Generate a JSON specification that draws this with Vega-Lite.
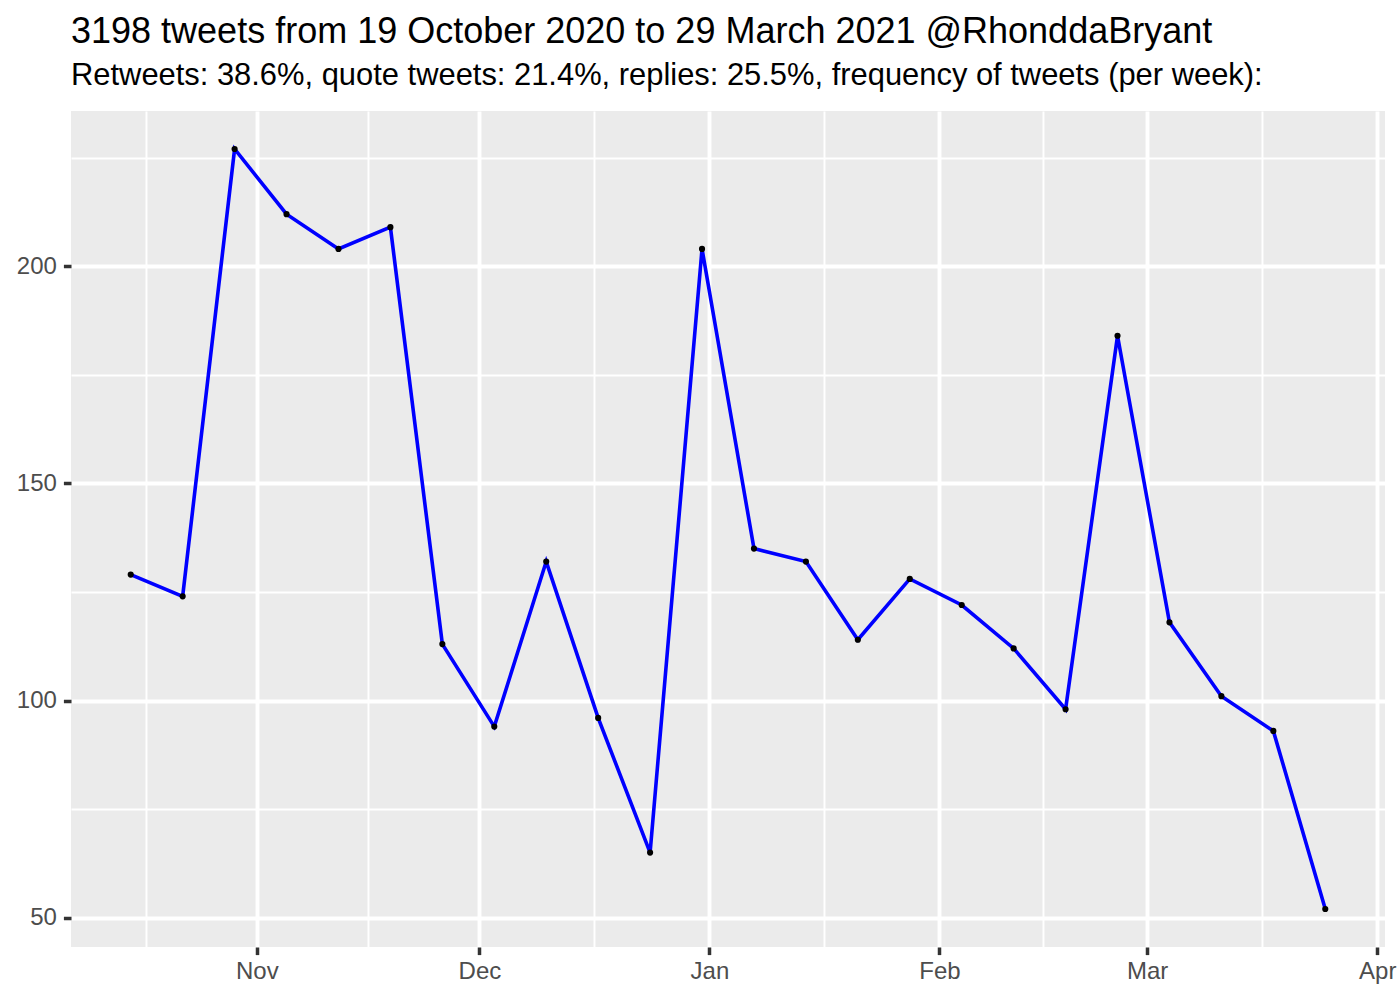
{
  "$schema": "https://vega.github.io/schema/vega-lite/v6.json",
  "width": 1314,
  "height": 836,
  "autosize": {"type": "none"},
  "padding": {"left": 71, "top": 111, "right": 15, "bottom": 53},
  "background": "white",
  "title": {
    "text": "3198 tweets from 19 October 2020 to 29 March 2021 @RhonddaBryant",
    "subtitle": "Retweets: 38.6%, quote tweets: 21.4%, replies: 25.5%, frequency of tweets (per week):",
    "anchor": "start",
    "frame": "group",
    "font": "Liberation Sans",
    "fontSize": 36,
    "fontWeight": "normal",
    "color": "#000000",
    "subtitleFont": "Liberation Sans",
    "subtitleFontSize": 30.9,
    "subtitleColor": "#000000",
    "subtitlePadding": 10,
    "offset": 19.5
  },
  "data": {
    "values": [
      {"week": "2020-10-15", "n": 129},
      {"week": "2020-10-22", "n": 124},
      {"week": "2020-10-29", "n": 227},
      {"week": "2020-11-05", "n": 212},
      {"week": "2020-11-12", "n": 204},
      {"week": "2020-11-19", "n": 209},
      {"week": "2020-11-26", "n": 113},
      {"week": "2020-12-03", "n": 94},
      {"week": "2020-12-10", "n": 132},
      {"week": "2020-12-17", "n": 96},
      {"week": "2020-12-24", "n": 65},
      {"week": "2020-12-31", "n": 204},
      {"week": "2021-01-07", "n": 135},
      {"week": "2021-01-14", "n": 132},
      {"week": "2021-01-21", "n": 114},
      {"week": "2021-01-28", "n": 128},
      {"week": "2021-02-04", "n": 122},
      {"week": "2021-02-11", "n": 112},
      {"week": "2021-02-18", "n": 98},
      {"week": "2021-02-25", "n": 184},
      {"week": "2021-03-04", "n": 118},
      {"week": "2021-03-11", "n": 101},
      {"week": "2021-03-18", "n": 93},
      {"week": "2021-03-25", "n": 52}
    ]
  },
  "encoding": {
    "x": {
      "field": "week",
      "type": "temporal",
      "scale": {
        "type": "utc",
        "nice": false,
        "domain": [
          {"year": 2020, "month": 10, "date": 6, "hours": 22, "minutes": 48, "utc": true},
          {"year": 2021, "month": 4, "date": 2, "hours": 1, "minutes": 12, "utc": true}
        ]
      },
      "axis": {
        "title": null,
        "domain": false,
        "values": [
          {"year": 2020, "month": 10, "date": 17, "utc": true},
          {"year": 2020, "month": 11, "date": 1, "utc": true},
          {"year": 2020, "month": 11, "date": 16, "utc": true},
          {"year": 2020, "month": 12, "date": 1, "utc": true},
          {"year": 2020, "month": 12, "date": 16, "hours": 12, "utc": true},
          {"year": 2021, "month": 1, "date": 1, "utc": true},
          {"year": 2021, "month": 1, "date": 16, "hours": 12, "utc": true},
          {"year": 2021, "month": 2, "date": 1, "utc": true},
          {"year": 2021, "month": 2, "date": 15, "utc": true},
          {"year": 2021, "month": 3, "date": 1, "utc": true},
          {"year": 2021, "month": 3, "date": 16, "hours": 12, "utc": true},
          {"year": 2021, "month": 4, "date": 1, "utc": true}
        ],
        "labelExpr": "utcdate(datum.value) === 1 ? utcFormat(datum.value, '%b') : ''",
        "labelFont": "Liberation Sans",
        "labelFontSize": 24,
        "labelColor": "#4D4D4D",
        "labelPadding": 5,
        "labelFlush": false,
        "labelOverlap": false,
        "tickColor": "#333333",
        "tickSize": 7.6,
        "tickWidth": 3.5,
        "tickOpacity": {"condition": {"test": "utcdate(datum.value) === 1", "value": 1}, "value": 0},
        "gridColor": "#FFFFFF",
        "gridWidth": {"condition": {"test": "utcdate(datum.value) === 1", "value": 3.9}, "value": 1.95}
      }
    },
    "y": {
      "field": "n",
      "type": "quantitative",
      "scale": {"domain": [43.25, 235.75], "nice": false, "zero": false},
      "axis": {
        "title": null,
        "domain": false,
        "values": [50, 75, 100, 125, 150, 175, 200, 225],
        "labelExpr": "datum.value % 50 === 0 ? datum.label : ''",
        "labelFont": "Liberation Sans",
        "labelFontSize": 24,
        "labelColor": "#4D4D4D",
        "labelPadding": 7,
        "labelOverlap": false,
        "tickColor": "#333333",
        "tickSize": 7.6,
        "tickWidth": 3.5,
        "tickOpacity": {"condition": {"test": "datum.value % 50 === 0", "value": 1}, "value": 0},
        "gridColor": "#FFFFFF",
        "gridWidth": {"condition": {"test": "datum.value % 50 === 0", "value": 3.9}, "value": 1.95}
      }
    }
  },
  "layer": [
    {"mark": {"type": "line", "color": "#0000FF", "strokeWidth": 3.6}},
    {"mark": {"type": "circle", "color": "#000000", "opacity": 1, "size": 38}}
  ],
  "config": {
    "view": {"fill": "#EBEBEB", "stroke": null},
    "font": "Liberation Sans"
  }
}
